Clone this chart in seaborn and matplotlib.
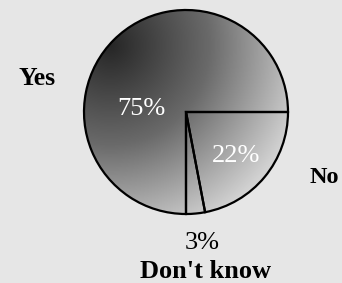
import matplotlib
matplotlib.use("Agg")
import matplotlib.pyplot as plt
import numpy as np
import seaborn as sns


# Dados do grafico (ordem no sentido horario a partir das 3 horas).
categorias = ["No", "Don't know", "Yes"]
percentuais = [22, 3, 75]
rotulos_pct = ["22%", "3%", "75%"]

FUNDO = "#e6e6e6"
W, H = 342, 283


def main() -> None:
    sns.set_theme(style="white")
    plt.rcParams["font.family"] = ["Liberation Serif", "DejaVu Serif"]

    fig = plt.figure(figsize=(W / 100, H / 100), dpi=100, facecolor=FUNDO)
    ax = fig.add_axes([0, 0, 1, 1], facecolor=FUNDO)

    cx, cy, raio = 186, 112, 102
    wedges, _ = ax.pie(
        percentuais,
        startangle=0,
        counterclock=True,
        center=(cx, cy),
        radius=raio,
        wedgeprops={"facecolor": "none", "edgecolor": "black", "linewidth": 1.6},
    )

    # Preenchimento em degrade (escuro no canto superior esquerdo).
    cmap = sns.blend_palette(["#262626", "#6a6a6a", "#d2d2d2"], as_cmap=True)
    xs = np.linspace(cx - raio, cx + raio, 300)
    ys = np.linspace(cy - raio, cy + raio, 300)
    gx, gy = np.meshgrid(xs, ys)
    dist = np.hypot(gx - 110, gy - 45)
    for w in wedges:
        img = ax.imshow(
            dist,
            cmap=cmap,
            vmin=0,
            vmax=200,
            extent=(cx - raio, cx + raio, cy + raio, cy - raio),
            origin="upper",
            zorder=0,
        )
        img.set_clip_path(w)

    ax.set_xlim(0, W)
    ax.set_ylim(H, 0)
    ax.set_aspect("equal")
    ax.axis("off")

    # Rotulos.
    ax.text(37, 85, categorias[2], fontsize=18.5, fontweight="bold",
            ha="center", va="baseline", color="black")
    ax.text(324, 183, categorias[0], fontsize=17.5, fontweight="bold",
            ha="center", va="baseline", color="black")
    ax.text(202, 249, rotulos_pct[1], fontsize=19,
            ha="center", va="baseline", color="black")
    ax.text(205, 278, categorias[1], fontsize=19, fontweight="bold",
            ha="center", va="baseline", color="black")
    ax.text(141, 115, rotulos_pct[2], fontsize=19,
            ha="center", va="baseline", color="white")
    ax.text(236, 162, rotulos_pct[0], fontsize=19,
            ha="center", va="baseline", color="white")

    fig.savefig("out.png", dpi=100, facecolor=FUNDO)
    plt.close(fig)


if __name__ == "__main__":
    main()
